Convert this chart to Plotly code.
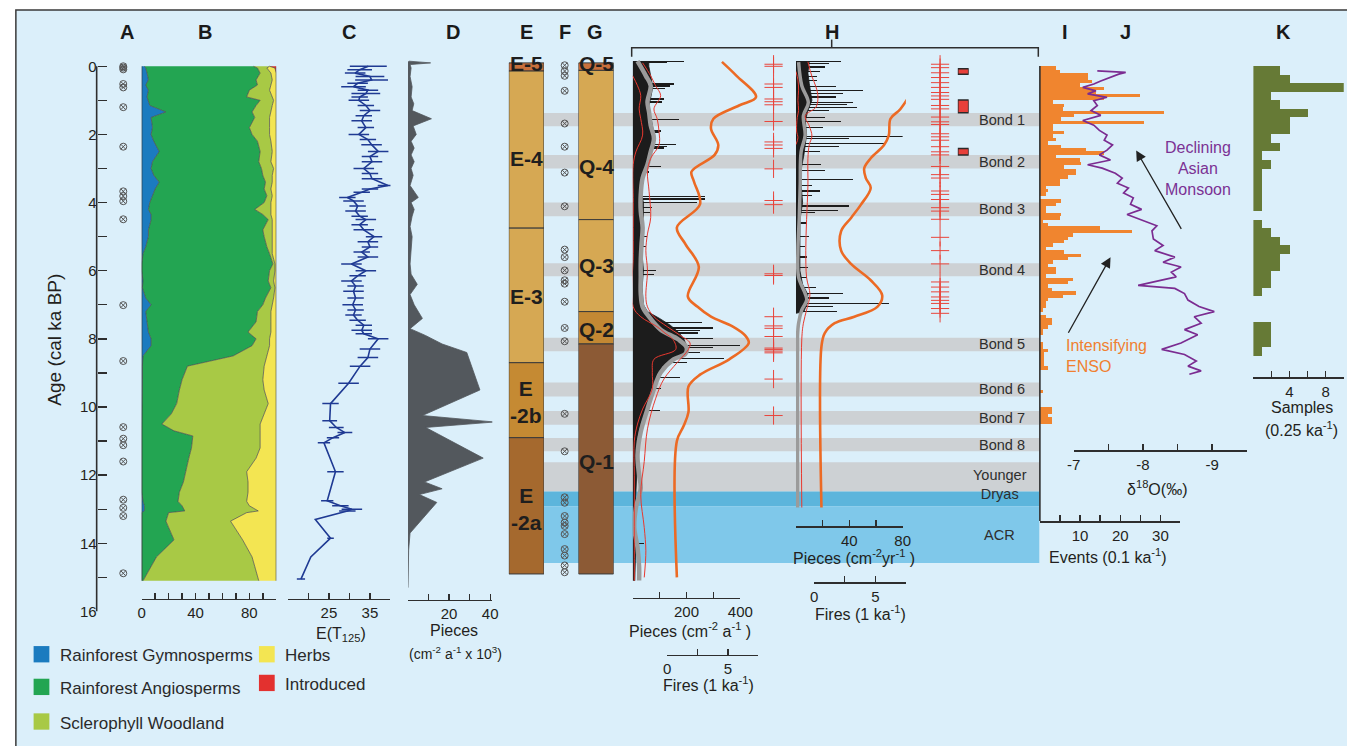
import numpy as np
import plotly.graph_objects as go

# ======================= DATA =======================
# A: dated samples (ka BP)
A_ages = [0.0, 0.04, 0.09, 0.52, 0.62, 1.2, 2.36, 3.67, 3.81, 3.96, 4.49, 7.01, 8.65,
          10.59, 10.93, 11.12, 11.6, 12.72, 12.96, 13.2, 14.88]

# B: pollen, cumulative upper edge of each group (%)
pollen_age = [0.0, 0.05, 0.2, 0.4, 0.55, 0.7, 0.9, 1.0, 1.15, 1.34, 1.5, 1.8, 2.0, 2.2, 2.5, 2.8,
              3.0, 3.2, 3.4, 3.6, 3.8, 4.0, 4.2, 4.35, 4.5, 4.8, 5.0, 5.3, 5.5, 5.8, 6.0, 6.3,
              6.5, 6.8, 7.0, 7.2, 7.5, 7.8, 8.0, 8.2, 8.5, 8.8, 9.2, 9.5, 9.9, 10.2, 10.5, 10.7,
              10.85, 11.2, 11.5, 11.9, 12.2, 12.5, 12.77, 12.9, 13.05, 13.1, 13.35, 13.9, 14.4, 15.1]
gymno_top = [2, 3, 4, 5, 3, 5, 4, 5, 6, 18, 7, 8, 7, 9, 13, 8,
             7, 9, 13, 10, 8, 6, 5, 7, 7, 5, 5, 3, 1, 0, 0, 1,
             0.5, 3, 7, 3, 4, 5, 7, 7, 1, 0.5, 0.5, 0.3, 0, 0, 0, 0,
             0, 0, 0, 0, 0, 0, 1, 2, 2, 0, 0, 0, 0, 0]
angio_top = [83, 86, 88, 85, 86, 80, 78, 88, 85, 82, 84, 80, 82, 86, 88, 87,
             89, 90, 92, 91, 93, 91, 84, 90, 94, 90, 91, 93, 95, 97.5, 95, 94,
             96, 92, 90, 86, 85, 79, 85, 82, 68, 34, 30, 28, 26, 22, 15, 24,
             38, 37, 35, 33, 31, 28, 27, 30, 32, 20, 18, 24, 11, 1]
sclero_top = [95, 93, 96, 97, 96, 95, 97, 98, 97, 96, 95, 95, 95, 96, 97, 96,
              98, 97, 97, 96, 97, 96, 96, 96, 97, 97, 97, 97, 97, 99, 99, 98,
              99, 98, 97, 96, 96, 96, 95, 95, 93, 91, 90, 91, 94, 91, 88, 88,
              88, 88, 85, 78, 79, 79, 78, 80, 86.6, 78, 66, 75, 82, 87]
introduced_pct = [5, 1] + [0] * 60

# C: E(T125)
C_age = [0.0, 0.1, 0.2, 0.3, 0.4, 0.5, 0.6, 0.7, 0.8, 0.9, 1.0, 1.15, 1.3, 1.45, 1.6, 1.8,
         2.0, 2.15, 2.3, 2.5, 2.65, 2.8, 3.0, 3.15, 3.3, 3.5, 3.6, 3.7, 3.85, 3.95, 4.1, 4.25,
         4.4, 4.5, 4.65, 4.8, 5.0, 5.15, 5.3, 5.45, 5.6, 5.8, 6.0, 6.15, 6.3, 6.45, 6.6, 6.8,
         7.0, 7.15, 7.3, 7.45, 7.6, 7.75, 7.85, 8.0, 8.3, 8.55, 8.8, 9.3, 9.9, 10.4, 10.6,
         10.75, 10.9, 11.05, 11.9, 12.75, 12.9, 13.0, 13.05, 13.3, 13.85, 14.4, 15.05]
C_val = [34.6, 32.5, 31.4, 35.0, 35.4, 32.0, 31.0, 34.5, 34.0, 32.5, 32.3, 34.0, 35.0, 33.5, 33.0, 34.0,
         32.3, 34.5, 35.4, 37.0, 35.0, 35.5, 33.5, 35.0, 35.5, 39.4, 35.0, 33.0, 29.5, 31.0, 32.0, 31.5,
         32.5, 34.0, 32.5, 33.5, 36.0, 34.5, 35.0, 33.0, 34.5, 30.5, 34.0, 32.0, 30.5, 31.5, 31.0, 31.5,
         30.8, 31.5, 31.0, 32.0, 33.5, 33.0, 33.5, 37.0, 35.0, 34.5, 32.6, 29.8, 25.4, 25.2, 26.8,
         28.9, 26.0, 23.8, 26.6, 24.6, 27.8, 30.6, 29.5, 21.7, 25.4, 20.6, 18.2]
C_err = [4.5, 3.0, 2.5, 3.5, 4.0, 2.5, 3.0, 2.5, 3.5, 2.0, 2.5, 2.0, 2.5, 2.0, 2.5, 2.0,
         2.5, 2.0, 2.5, 2.5, 2.0, 2.5, 2.5, 2.0, 2.5, 2.5, 2.0, 2.0, 2.0, 2.5, 2.0, 2.5,
         2.0, 2.5, 2.0, 2.5, 2.0, 2.5, 2.0, 2.0, 2.5, 2.5, 2.5, 2.0, 2.5, 2.0, 2.5, 2.0,
         2.5, 2.0, 2.0, 2.0, 2.0, 2.5, 2.0, 2.5, 2.5, 2.5, 2.5, 2.5, 2.0, 1.8, 1.8,
         1.8, 1.5, 1.5, 2.0, 1.5, 2.0, 2.5, 2.0, 0.0, 0.8, 0.0, 1.0]

# D: charcoal pieces (cm-2 a-1 x 10^3)
D_age = [-0.15, -0.1, -0.05, 0.05, 0.3, 0.6, 0.9, 1.1, 1.3, 1.54, 1.75, 2.0, 2.2, 2.4, 2.6, 2.8,
         3.0, 3.2, 3.5, 3.85, 4.0, 4.2, 4.4, 4.7, 5.0, 5.4, 5.8, 6.1, 6.4, 6.7, 7.0, 7.4, 7.7,
         7.9, 8.15, 8.4, 9.5, 10.25, 10.44, 10.6, 11.5, 12.2, 12.4, 12.57, 12.8, 13.7, 14.2, 15.3]
D_val = [0.5, 11, 1, 1.5, 1, 2, 1.5, 2.8, 2, 11.4, 2.5, 4, 1.5, 3, 1.5, 3,
         1.5, 2.5, 1, 5, 1.5, 3, 2, 1, 2, 1.5, 1, 1.5, 4.5, 1, 3, 7, 1,
         8.5, 16.6, 28.6, 35, 7, 42, 8.6, 36.6, 8, 16.6, 5.5, 14, 1, 0.3, 0]

# E: pollen zones
E_names = ['E-5', 'E-4', 'E-3', 'E<br>-2b', 'E<br>-2a']
E_top = [-0.1, 0.14, 4.75, 8.7, 10.9]
E_bottom = [0.14, 4.75, 8.7, 10.9, 14.9]
E_label_age = [-0.09, 2.7, 6.77, 9.84, 12.98]

# F: dated samples
F_ages = [-0.03, 0.14, 0.28, 0.72, 1.68, 2.36, 3.12, 4.11, 5.38, 5.6, 5.99, 6.28, 6.38, 6.91,
          7.68, 8.07, 10.2, 11.3, 12.65, 12.81, 13.2, 13.39, 13.49, 13.73, 14.17, 14.36, 14.65, 14.85]

# G: charcoal zones
G_names = ['Q-5', 'Q-4', 'Q-3', 'Q-2', 'Q-1']
G_top = [-0.1, 0.12, 4.5, 7.2, 8.15]
G_bottom = [0.12, 4.5, 7.2, 8.15, 14.9]
G_label_age = [-0.09, 2.94, 5.85, 7.73, 11.6]

# Bond events and climate intervals
bond_names = ['Bond 1', 'Bond 2', 'Bond 3', 'Bond 4', 'Bond 5', 'Bond 6', 'Bond 7', 'Bond 8']
bond_start = [1.37, 2.6, 4.0, 5.78, 7.97, 9.28, 10.12, 10.91]
bond_end = [1.76, 3.0, 4.4, 6.16, 8.36, 9.69, 10.52, 11.3]
yd_start, yd_end = 11.62, 12.48
yd_blue_end = 12.91
acr_end = 14.58

# H (site 1): charcoal accumulation (pieces cm-2 a-1)
hL_body_age = [-0.15, 0.0, 0.2, 0.4, 0.6, 0.8, 1.0, 1.2, 1.4, 1.6, 1.8, 2.0, 2.2, 2.4, 2.6, 2.8,
               3.0, 3.2, 3.4, 3.6, 3.8, 4.0, 4.2, 4.4, 4.6, 4.8, 5.0, 5.5, 6.0, 6.5, 7.0, 7.2,
               7.4, 7.6, 7.8, 8.0, 8.2, 8.4, 8.6, 8.8, 9.0, 9.2, 9.4, 9.6, 9.8, 10.0, 10.2,
               10.5, 11.0, 11.5, 12.0, 12.5, 13.0, 13.5, 14.0, 14.5, 15.1]
hL_body_val = [60, 60, 65, 70, 75, 70, 65, 60, 65, 70, 75, 80, 75, 70, 65, 60,
               50, 40, 35, 35, 35, 40, 40, 40, 35, 40, 40, 35, 40, 35, 40, 55,
               100, 140, 170, 190, 200, 195, 160, 110, 100, 90, 85, 70, 60, 55, 45,
               30, 15, 15, 15, 12, 8, 8, 12, 10, 8]
hL_spike_age = [-0.13, -0.10, 0.52, 0.58, 0.65, 0.96, 1.05, 1.57, 1.90, 1.95, 2.30, 2.35, 2.40,
                2.93, 3.10, 3.83, 3.87, 3.91, 4.00, 4.15, 4.30, 5.00, 5.30, 6.00, 6.10, 7.53,
                7.68, 7.75, 7.83, 8.00, 8.20, 8.25, 8.40, 8.58, 8.70, 9.13, 9.46, 10.10, 10.30, 14.00]
hL_spike_val = [189, 128, 152, 140, 120, 116, 110, 171, 104, 98, 162, 128, 116,
                104, 60, 268, 268, 268, 238, 70, 65, 55, 50, 85, 80, 256,
                299, 250, 244, 299, 400, 299, 250, 338, 200, 177, 104, 101, 55, 43]
hL_smooth_age = [-0.15, 0.28, 0.57, 1.05, 1.35, 1.73, 2.12, 2.51, 2.89, 3.28, 3.77, 4.25, 4.73,
                 5.22, 5.7, 6.18, 6.67, 7.06, 7.35, 7.73, 8.02, 8.25, 8.45, 8.6, 8.99, 9.47,
                 10.06, 10.73, 11.41, 11.99, 12.38, 12.96, 13.54, 14.12, 14.7, 15.09]
hL_smooth_val = [18, 49, 67, 55, 61, 67, 79, 67, 55, 37, 30, 30, 37,
                 33, 30, 30, 30, 37, 61, 104, 170, 200, 195, 152, 104, 79,
                 55, 30, 18, 24, 30, 12, 6, 18, 24, 24]
hL_lo_age = [0.28, 0.57, 0.86, 1.25, 1.54, 2.02, 2.51, 2.89, 4.0, 5.5, 7.06, 7.35, 7.64, 7.83,
             8.02, 8.31, 8.6, 8.99, 9.47, 10.06, 10.5, 11.0, 12.0, 13.0, 14.0, 15.1]
hL_lo_val = [0, 18, 30, 24, 30, 37, 12, 2, 2, 2, 2, 30, 90, 120,
             150, 160, 79, 73, 73, 37, 18, 6, 6, 6, 6, 6]
hL_hi_age = [-0.1, 0.28, 0.57, 0.86, 1.25, 1.54, 1.92, 2.31, 2.7, 3.09, 3.67, 4.44, 4.92, 5.41,
             5.99, 6.76, 7.06, 7.35, 7.64, 7.9, 8.12, 8.31, 8.7, 9.18, 9.76, 10.64, 11.6, 12.57,
             13.54, 14.22, 15.0]
hL_hi_val = [37, 67, 85, 104, 79, 91, 98, 98, 67, 55, 61, 67, 55, 49,
             55, 49, 55, 79, 128, 177, 213, 207, 165, 116, 85, 55, 43, 30,
             43, 49, 43]
# H (site 1): fire frequency (fires per ka)
hL_fire_age = [-0.13, 0.28, 0.9, 1.15, 1.54, 1.83, 2.31, 2.6, 3.09, 3.38, 4.05, 4.73, 5.22,
               5.89, 6.76, 7.06, 7.35, 7.64, 7.9, 8.12, 8.6, 9.05, 9.4, 10.15, 10.56, 11.0, 15.0]
hL_fire_val = [4.5, 5.7, 7.3, 5.9, 3.8, 3.6, 4.2, 3.9, 2.0, 2.2, 2.7, 0.8, 1.5,
               2.6, 1.7, 2.5, 3.6, 5.4, 6.4, 6.7, 5.1, 2.7, 1.75, 1.75, 1.35, 0.8, 0.8]
hL_events = [-0.06, 0.0, 0.52, 0.62, 0.96, 1.04, 1.13, 1.62, 2.22, 2.31, 2.41, 3.01, 3.94, 4.06,
             6.09, 6.14, 7.35, 7.62, 7.69, 7.93, 8.27, 8.31, 8.36, 8.41, 9.18, 10.25]

# H (site 2): charcoal accumulation (pieces cm-2 yr-1)
hR_body_age = [-0.13, 0.2, 0.5, 0.8, 1.0, 1.3, 1.6, 2.0, 2.3, 2.6, 3.0, 3.5, 4.0, 4.5, 5.0,
               5.5, 6.0, 6.4, 6.7, 7.0, 7.2, 7.25]
hR_body_val = [10, 9, 10, 11, 12, 9, 7, 8, 7, 6, 4, 4, 5, 3, 3,
               3, 3, 5, 9, 8, 6, 0]
hR_spike_age = [-0.13, -0.08, 0.02, 0.15, 0.3, 0.42, 0.6, 0.72, 0.8, 0.9, 1.06, 1.12, 1.2, 1.3,
                1.5, 1.63, 1.8, 2.05, 2.12, 2.26, 2.35, 2.5, 2.89, 3.05, 3.33, 3.5, 3.66, 3.8,
                4.1, 4.23, 4.3, 4.6, 5.0, 5.3, 5.6, 5.9, 6.2, 6.5, 6.66, 6.8, 6.96, 7.05, 7.2]
hR_spike_val = [34, 25, 22, 18, 16, 15.5, 30, 50, 35, 30, 42.5, 38, 46, 25,
                21.6, 34, 20, 99, 40, 66, 32, 18, 19, 22, 42.5, 12, 18, 12,
                40, 31.4, 14, 8, 10, 7, 8, 9, 8, 15, 35, 25, 69.5, 28, 31]
hR_smooth_age = [-0.12, 0.57, 1.06, 1.45, 2.03, 2.51, 3.48, 4.45, 5.41, 6.19, 6.67, 6.86, 7.15,
                 7.54, 7.93, 8.5, 12.95]
hR_smooth_val = [2, 4.4, 9.3, 5.6, 6.9, 3.9, 3.2, 2.5, 1.5, 2, 6.9, 8.1, 4.4,
                 2, 1.2, 1.2, 1.2]
hR_lo_age = [0.15, 0.4, 0.7, 1.0, 1.3, 1.5, 1.9, 2.1, 2.3]
hR_lo_val = [0, 1.5, 2, 1.5, 2, 1, 0.5, 1.5, 0]
hR_hi_age = [-0.13, 0.3, 0.6, 0.9, 1.2, 1.45, 1.75, 2.05, 2.3, 2.7, 3.5, 4.5, 5.4, 6.2, 6.7,
             7.15, 7.54, 8.0, 12.95]
hR_hi_val = [9, 12, 15, 16.5, 15, 7, 10, 12, 10, 9, 9, 8, 7.4, 8, 10.5,
             8, 5.6, 4.4, 4.4]
# H (site 2): fire frequency (fires per ka)
hR_fire_age = [-0.1, 0.38, 0.77, 1.26, 1.54, 2.03, 2.32, 2.7, 2.99, 3.28, 3.57, 4.06, 4.45,
               4.84, 5.41, 5.8, 6.28, 6.72, 7.06, 7.35, 7.54, 7.83, 8.22, 12.95]
hR_fire_val = [8.44, 7.8, 7.85, 7.04, 6.24, 6.1, 5.7, 4.62, 4.09, 4.22, 4.62, 3.82, 3.01,
               2.2, 2.2, 3.01, 4.62, 5.56, 5.16, 3.28, 1.67, 0.86, 0.59, 0.59]
hR_events = [-0.06, 0.04, 0.19, 0.33, 0.48, 0.62, 0.77, 0.87, 0.97, 1.15, 1.25, 1.49, 1.63, 1.71,
             1.98, 2.07, 2.17, 2.36, 2.51, 2.6, 2.94, 3.18, 3.28, 3.66, 3.76, 3.91, 4.15, 4.25,
             4.49, 5.02, 5.41, 5.8, 6.33, 6.48, 6.62, 6.77, 6.87, 6.96, 7.11, 7.25]
rect_start = [0.07, 0.99, 2.41]
rect_end = [0.23, 1.36, 2.6]

# I: ENSO events per 0.1 ka bin (starting at 0 ka)
events_bin = 0.1
events_count = [4.1, 5.1, 12, 12, 13, 10, 16, 14, 25, 16, 3.3, 6.1, 5.7, 31, 8.6, 5.3, 26, 3.3,
                3.3, 6.1, 3.3, 4.1, 2, 5.3, 11.4, 16, 4.1, 10, 10.2, 6.1, 9, 9, 7, 4.9, 4.9,
                1.6, 2, 1.6, 0, 5.3, 4.1, 1.6, 1.6, 5.3, 4.9, 0.8, 2, 15, 23, 8.2, 7, 6.1, 3.3,
                1.6, 6.1, 10.2, 7, 3.3, 2, 4.1, 4.1, 1.6, 8.2, 7, 2, 2.9, 9, 5.7, 2, 1.6, 1.6,
                0.8, 0, 1.6, 2.9, 2.9, 2, 0.8, 0.8, 0, 0, 0.8, 0.8, 2, 1, 1, 1, 1, 2, 0,
                0, 0, 0, 0, 0, 0.8, 0, 0, 0, 0, 2.9, 2.9, 2, 2.9, 2.9, 0]

# J: speleothem d18O (permil)
d18O_age = [0.136, 0.18, 0.23, 0.33, 0.43, 0.52, 0.62, 0.72, 0.81, 0.91, 1.01, 1.15, 1.3, 1.44,
            1.59, 1.73, 1.88, 2.02, 2.17, 2.31, 2.46, 2.6, 2.75, 2.89, 2.99, 3.14, 3.28, 3.43,
            3.57, 3.72, 3.86, 4.05, 4.2, 4.35, 4.54, 4.68, 4.83, 5.07, 5.26, 5.41, 5.6, 5.75,
            5.89, 6.04, 6.18, 6.43, 6.52, 6.67, 6.86, 7.05, 7.2, 7.35, 7.54, 7.73, 7.88, 8.12,
            8.31, 8.46, 8.65, 8.8, 8.94, 9.04]
d18O_val = [-7.34, -7.75, -7.65, -7.51, -7.39, -7.29, -7.13, -7.32, -7.2, -7.48, -7.29, -7.34,
            -7.25, -7.39, -7.13, -7.29, -7.37, -7.48, -7.44, -7.56, -7.48, -7.37, -7.53, -7.2,
            -7.41, -7.6, -7.7, -7.63, -7.79, -7.72, -7.86, -7.82, -7.98, -7.77, -8.03, -8.2,
            -8.13, -8.15, -8.29, -8.17, -8.46, -8.29, -8.55, -8.41, -8.48, -7.93, -8.46, -8.6,
            -8.65, -8.81, -9.03, -8.74, -8.84, -8.6, -8.79, -8.55, -8.27, -8.6, -8.77, -8.65,
            -8.84, -8.67]

# K: samples per 0.25 ka bin (starting at 0 ka)
samples_bin = 0.25
samples_count = [2.9, 4, 10, 2, 2.9, 6, 4, 4, 2, 2.9, 0.9, 2, 0.9, 0.9, 0.9, 0.9, 0.9, 0,
                 0.9, 2, 2.9, 4, 2.9, 2.9, 2, 2, 0.9, 0, 0, 0, 2, 2, 2, 0.9]

# ======================= LAYOUT HELPERS =======================
W, H = 1360, 754
AGE0_PX, AGE16_PX = 67.0, 618.0
AGE_TOP = -0.6
PPK = (AGE16_PX - AGE0_PX) / 16.0


def fx(p):
    return p / W


def fy(p):
    return 1 - p / H


FONT = 'Arial, "Liberation Sans", Helvetica, sans-serif'
TXT = '#231f20'
AXC = '#2e2e2e'
BG = '#dbeffa'

layout_axes = {}
_n = [0]


def make_axis(x0, x1, rng, line_y=None, labels=None, minor_step=None, minor0=None):
    _n[0] += 1
    i = _n[0]
    key = 'xaxis' if i == 1 else 'xaxis%d' % i
    ref = 'x' if i == 1 else 'x%d' % i
    ax = dict(domain=[fx(x0), fx(x1)], range=rng, anchor='free', position=0,
              showgrid=False, zeroline=False, fixedrange=True)
    if line_y is None:
        ax.update(visible=False)
    else:
        ax.update(position=fy(line_y), side='bottom', showline=True, linecolor=AXC,
                  linewidth=1.6, ticks='inside', ticklen=6, tickwidth=1.4, tickcolor=AXC,
                  tickmode='array', tickvals=labels, ticktext=['%g' % v for v in labels],
                  tickfont=dict(family=FONT, size=15, color=TXT),
                  minor=dict(ticks='inside', ticklen=6, tickwidth=1.4, tickcolor=AXC,
                             dtick=minor_step, tick0=minor0, showgrid=False))
    layout_axes[key] = ax
    return ref


# ======================= AXES =======================
xA = make_axis(110, 126, [0, 1])
xB = make_axis(136.7, 273.3, [0, 100], 605, [0, 40, 80], 10, 0)
xC = make_axis(285, 389.2, [15, 40], 605, [25, 35], 5, 15)
xD = make_axis(407, 492.5, [0, 41], 606, [20, 40], 10, 0)
xE = make_axis(509.3, 545, [0, 1])
xF = make_axis(558, 574, [0, 1])
xG = make_axis(580, 615.7, [0, 1])
xHLp = make_axis(635, 744.3, [0, 400], 604, [200, 400], 100, 0)
xHLf = make_axis(670, 762.7, [0, 7.5], 661.7, [0, 5], 2.5, 0)
xHLe = make_axis(770, 786, [0, 1])
xHRp = make_axis(800.7, 909, [0, 80], 531.7, [40, 80], 20, 0)
xHRf = make_axis(819.3, 912.3, [0, 7.5], 588.3, [0, 5], 2.5, 0)
xHRe = make_axis(939, 955, [0, 1])
xHRr = make_axis(965, 976, [0, 1])
xI = make_axis(1048.3, 1191, [0, 35], 526.7, [10, 20, 30], 5, 0)
xJ = make_axis(1082.7, 1258.3, [-7, -9.5], 455, [-7, -8, -9], 0.5, -7)
xK = make_axis(1265, 1356.7, [0, 10], 381, [4, 8], 2, 0)

ydom = [fy(AGE16_PX), fy(AGE0_PX + AGE_TOP * PPK)]
yaxis = dict(domain=ydom, range=[16, AGE_TOP], anchor='free', position=fx(91), side='left',
             showline=False, showgrid=False, zeroline=False, fixedrange=True,
             ticks='inside', ticklen=9, tickwidth=1.4, tickcolor=AXC,
             tickmode='array', tickvals=list(range(0, 17, 2)),
             ticktext=[str(v) for v in range(0, 17, 2)],
             minor=dict(ticks='inside', ticklen=9, tickwidth=1.4, tickcolor=AXC, dtick=1, tick0=0,
                        showgrid=False),
             tickfont=dict(family=FONT, size=15, color=TXT))

fig = go.Figure()


def add(tr, xref):
    tr.update(xaxis=xref, yaxis='y', showlegend=False, hoverinfo='skip')
    fig.add_trace(tr)


# ---- A ----
add(go.Scatter(x=[0.5] * len(A_ages), y=A_ages, mode='markers', cliponaxis=False,
               marker=dict(symbol='circle-x-open', size=7, color='#555555', line=dict(width=1))), xA)

# ---- B ----
herbs_top = [100 - v for v in introduced_pct]
total_top = [100] * len(pollen_age)
stack = [(gymno_top, '#1b7bbf', 'tozerox'), (angio_top, '#23a552', 'tonextx'),
         (sclero_top, '#a8c945', 'tonextx'), (herbs_top, '#f3e552', 'tonextx'),
         (total_top, '#e3312f', 'tonextx')]
for vals, col, fill in stack:
    add(go.Scatter(x=vals, y=pollen_age, mode='lines', fill=fill, fillcolor=col,
                   line=dict(color='#4a4a4a', width=0.7)), xB)
add(go.Scatter(x=[0, 0], y=[pollen_age[0], pollen_age[-1]], mode='lines',
               line=dict(color='#333333', width=1.2)), xB)

# ---- C ----
add(go.Scatter(x=C_val, y=C_age, mode='lines', line=dict(color='#1f3a93', width=1.6),
               error_x=dict(type='data', array=C_err, color='#1f3a93', thickness=1.5, width=0)), xC)

# ---- D ----
add(go.Scatter(x=D_val, y=D_age, mode='lines', fill='tozerox', fillcolor='#53585d',
               line=dict(color='#53585d', width=0.8)), xD)

# ---- E ----
E_colors = ['#c9703c', '#d6a853', '#d6a853', '#c58a33', '#a5692e']
add(go.Bar(x=[0.5] * len(E_top), y=[b - t for t, b in zip(E_top, E_bottom)], base=E_top,
           width=[1] * len(E_top), marker=dict(color=E_colors, line=dict(color='#3a3a3a', width=1))), xE)

# ---- F ----
add(go.Scatter(x=[0.5] * len(F_ages), y=F_ages, mode='markers', cliponaxis=False,
               marker=dict(symbol='circle-x-open', size=7, color='#555555', line=dict(width=1))), xF)

# ---- G ----
G_colors = ['#c9703c', '#d6a853', '#d6a853', '#c38833', '#8c5a35']
add(go.Bar(x=[0.5] * len(G_top), y=[b - t for t, b in zip(G_top, G_bottom)], base=G_top,
           width=[1] * len(G_top), marker=dict(color=G_colors, line=dict(color='#3a3a3a', width=1))), xG)

# ---- H site 1 ----
add(go.Scatter(x=hL_body_val, y=hL_body_age, mode='lines', fill='tozerox', fillcolor='#1c1c1c',
               line=dict(color='#1c1c1c', width=0.8)), xHLp)
add(go.Bar(x=hL_spike_val, y=hL_spike_age, orientation='h', width=0.035,
           marker=dict(color='#1c1c1c', line=dict(width=0))), xHLp)
add(go.Scatter(x=hL_smooth_val, y=hL_smooth_age, mode='lines', line=dict(color='#9b9b9b', width=4.5, shape='spline')), xHLp)
add(go.Scatter(x=hL_lo_val, y=hL_lo_age, mode='lines', line=dict(color='#e8392f', width=1, shape='spline')), xHLp)
add(go.Scatter(x=hL_hi_val, y=hL_hi_age, mode='lines', line=dict(color='#e8392f', width=1, shape='spline')), xHLp)
add(go.Scatter(x=hL_fire_val, y=hL_fire_age, mode='lines', line=dict(color='#ec6a24', width=2.6, shape='spline')), xHLf)
add(go.Scatter(x=[0.5] * len(hL_events), y=hL_events, mode='markers', cliponaxis=False,
               marker=dict(symbol='cross-thin', size=13, color='#e8453c', line=dict(width=1, color='#e8453c'))), xHLe)

# ---- H site 2 ----
add(go.Scatter(x=hR_body_val, y=hR_body_age, mode='lines', fill='tozerox', fillcolor='#1c1c1c',
               line=dict(color='#1c1c1c', width=0.8)), xHRp)
add(go.Bar(x=hR_spike_val, y=hR_spike_age, orientation='h', width=0.035,
           marker=dict(color='#1c1c1c', line=dict(width=0))), xHRp)
add(go.Scatter(x=hR_smooth_val, y=hR_smooth_age, mode='lines', line=dict(color='#9b9b9b', width=3.5, shape='spline')), xHRp)
add(go.Scatter(x=hR_lo_val, y=hR_lo_age, mode='lines', line=dict(color='#e8392f', width=1, shape='spline')), xHRp)
add(go.Scatter(x=hR_hi_val, y=hR_hi_age, mode='lines', line=dict(color='#e8392f', width=1, shape='spline')), xHRp)
add(go.Scatter(x=hR_fire_val, y=hR_fire_age, mode='lines', line=dict(color='#ec6a24', width=2.6, shape='spline')), xHRf)
add(go.Scatter(x=[0.5] * len(hR_events), y=hR_events, mode='markers', cliponaxis=False,
               marker=dict(symbol='cross-thin', size=13, color='#e8453c', line=dict(width=1, color='#e8453c'))), xHRe)
add(go.Bar(x=[0.5] * len(rect_start), y=[e - s for s, e in zip(rect_start, rect_end)], base=rect_start,
           width=[1] * len(rect_start), marker=dict(color='#e8403a', line=dict(color='#2a2a2a', width=1.5))), xHRr)

# ---- I ----
ev_centers = [events_bin * (k + 0.5) for k in range(len(events_count))]
add(go.Bar(x=events_count, y=ev_centers, orientation='h', width=events_bin,
           marker=dict(color='#f0852f', line=dict(width=0))), xI)

# ---- J ----
add(go.Scatter(x=d18O_val, y=d18O_age, mode='lines', line=dict(color='#7b2c91', width=1.7)), xJ)

# ---- K ----
sm_centers = [samples_bin * (k + 0.5) for k in range(len(samples_count))]
add(go.Bar(x=samples_count, y=sm_centers, orientation='h', width=samples_bin,
           marker=dict(color='#667a36', line=dict(width=0))), xK)

# ======================= SHAPES =======================
shapes = []
shapes.append(dict(type='rect', xref='paper', yref='paper', x0=fx(9), x1=1, y0=fy(10), y1=0,
                   fillcolor=BG, line=dict(width=0), layer='below'))
shapes.append(dict(type='path', xref='paper', yref='paper',
                   path='M %f %f L %f %f L %f %f' % (fx(9), 0, fx(9), fy(10), 1, fy(10)),
                   line=dict(color='#3a3a3a', width=1.5), layer='below'))
BAND_X0, BAND_X1 = fx(545), fx(1047.7)
for s, e in zip(bond_start, bond_end):
    shapes.append(dict(type='rect', xref='paper', yref='y', x0=BAND_X0, x1=BAND_X1, y0=s, y1=e,
                       fillcolor='#cdd1d4', line=dict(width=0), layer='below'))
shapes.append(dict(type='rect', xref='paper', yref='y', x0=BAND_X0, x1=BAND_X1, y0=yd_start, y1=yd_end,
                   fillcolor='#cdd1d4', line=dict(width=0), layer='below'))
shapes.append(dict(type='rect', xref='paper', yref='y', x0=BAND_X0, x1=BAND_X1, y0=yd_end, y1=yd_blue_end,
                   fillcolor='#5cb5dc', line=dict(width=0), layer='below'))
shapes.append(dict(type='rect', xref='paper', yref='y', x0=BAND_X0, x1=BAND_X1, y0=yd_blue_end, y1=acr_end,
                   fillcolor='#7fc8ea', line=dict(width=0), layer='below'))
# age axis line
shapes.append(dict(type='line', xref='paper', yref='y', x0=fx(91), x1=fx(91), y0=0, y1=16,
                   line=dict(color=AXC, width=1.6)))
# I panel vertical axis line
shapes.append(dict(type='line', xref='paper', yref='paper', x0=fx(1048.3), x1=fx(1048.3),
                   y0=fy(66.7), y1=fy(526.7), line=dict(color=AXC, width=1.6)))
# H bracket
shapes.append(dict(type='path', xref='paper', yref='paper',
                   path='M %f %f L %f %f L %f %f L %f %f' % (fx(634), fy(57.3), fx(634), fy(48.3),
                                                             fx(1046.7), fy(48.3), fx(1046.7), fy(57.3)),
                   line=dict(color=AXC, width=1.5)))
shapes.append(dict(type='line', xref='paper', yref='paper', x0=fx(837), x1=fx(837), y0=fy(48.3), y1=fy(40),
                   line=dict(color=AXC, width=1.5)))
# legend swatches
legend_items = [('Rainforest Gymnosperms', '#1b7bbf', 27, 653), ('Rainforest Angiosperms', '#23a552', 27, 686),
                ('Sclerophyll Woodland', '#a8c945', 27, 721), ('Herbs', '#f3e552', 255.7, 653),
                ('Introduced', '#e3312f', 255.7, 682)]
for name, col, lx, ly in legend_items:
    shapes.append(dict(type='rect', xref='paper', yref='paper', x0=fx(lx), x1=fx(lx + 16), y0=fy(ly),
                       y1=fy(ly + 16.5), fillcolor=col, line=dict(width=0)))

# ======================= ANNOTATIONS =======================
ann = []


def txt(text, x, y, size=16, color=TXT, xanchor='center', yanchor='middle', xref='paper', yref='paper',
        angle=0, align='center'):
    ann.append(dict(text=text, x=fx(x) if xref == 'paper' else x, y=fy(y) if yref == 'paper' else y,
                    xref=xref, yref=yref, showarrow=False, xanchor=xanchor, yanchor=yanchor,
                    textangle=angle, align=align, font=dict(family=FONT, size=size, color=color)))


for letter, lx in [('A', 121.5), ('B', 201), ('C', 347), ('D', 453), ('E', 527), ('F', 566),
                   ('G', 597), ('H', 837.5), ('I', 1074), ('J', 1135), ('K', 1295.5)]:
    txt('<b>%s</b>' % letter, lx, 32, size=20, color='#1a1a1a')

txt('Age (cal ka BP)', 48, 343, size=19, angle=-90)
for name, a in zip(E_names, E_label_age):
    txt('<b>%s</b>' % name, 0.5, a, size=21, color='#1e1e1e', xref=xE, yref='y')
for name, a in zip(G_names, G_label_age):
    txt('<b>%s</b>' % name, 0.5, a, size=21, color='#1e1e1e', xref=xG, yref='y')
for name, s, e in zip(bond_names, bond_start, bond_end):
    txt(name, 1010, (s + e) / 2, size=14.5, color='#2e2e2e', yref='y')
txt('Younger<br>Dryas', 1008, (yd_start + yd_blue_end) / 2, size=14.5, color='#2e2e2e', yref='y')
txt('ACR', 1007, (yd_blue_end + acr_end) / 2, size=14.5, color='#2e2e2e', yref='y')

txt('E(T<sub>125</sub>)', 339, 641, size=16)
txt('Pieces', 454, 637, size=16)
txt('(cm<sup>-2</sup> a<sup>-1</sup> x 10<sup>3</sup>)', 455, 660, size=14)
txt('Pieces (cm<sup>-2</sup> a<sup>-1</sup> )', 693, 637, size=16)
txt('Fires (1 ka<sup>-1</sup>)', 712, 691, size=16)
txt('Pieces (cm<sup>-2</sup>yr<sup>-1</sup> )', 860, 563, size=16)
txt('Fires (1 ka<sup>-1</sup>)', 866, 620, size=16)
txt('Events (0.1 ka<sup>-1</sup>)', 1117, 562, size=16)
txt('δ<sup>18</sup>O(‰)', 1167, 493, size=16)
txt('Samples', 1314, 412, size=16)
txt('(0.25 ka<sup>-1</sup>)', 1314, 434, size=16)

txt('Declining<br>Asian<br>Monsoon', 1209, 170, size=16, color='#7b3294')
txt('Intensifying<br>ENSO', 1073, 360, size=16, color='#f08030', xanchor='left', align='left')

ann.append(dict(text='', x=fx(1146), y=fy(152), xref='paper', yref='paper', showarrow=True,
                ax=46, ay=80, arrowhead=2, arrowsize=1.6, arrowwidth=1.3, arrowcolor='#222222', standoff=0))
ann.append(dict(text='', x=fx(1120), y=fy(260), xref='paper', yref='paper', showarrow=True,
                ax=-43, ay=77, arrowhead=2, arrowsize=1.6, arrowwidth=1.3, arrowcolor='#222222', standoff=0))

for name, col, lx, ly in legend_items:
    tx = 52 if lx < 100 else 280
    txt(name, tx, ly + 10, size=17, color='#2a2a2a', xanchor='left')

fig.update_layout(width=W, height=H, margin=dict(l=0, r=0, t=0, b=0), autosize=False,
                  paper_bgcolor='white', plot_bgcolor='rgba(0,0,0,0)',
                  bargap=0, showlegend=False, yaxis=yaxis, shapes=shapes, annotations=ann,
                  font=dict(family=FONT, color=TXT), **layout_axes)

fig.write_html('out.html', include_plotlyjs=True, config={'displayModeBar': False, 'staticPlot': True},
               post_script="document.body.style.margin='0px';document.documentElement.style.margin='0px';")
